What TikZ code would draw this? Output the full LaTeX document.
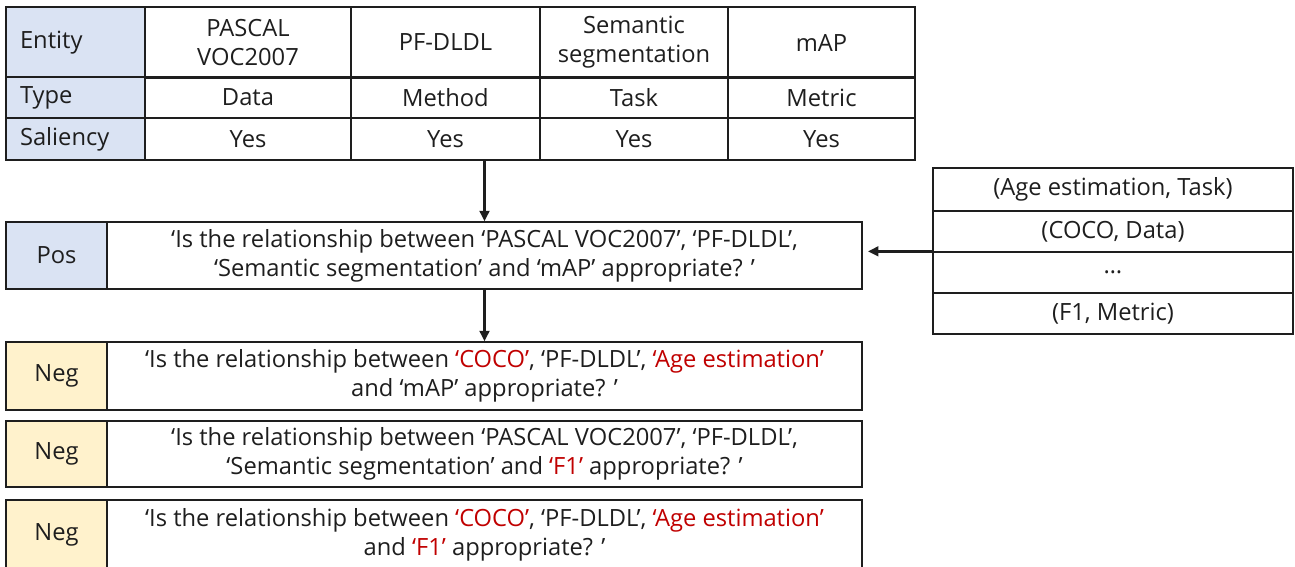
\documentclass[tikz,border=0pt]{standalone}
\usepackage{fontspec}
\setmainfont{Open Sans}
\usetikzlibrary{arrows.meta,positioning,calc}
\definecolor{Ink}{HTML}{1E1E1E}
\definecolor{HeadBlue}{HTML}{DAE3F3}
\definecolor{HeadGold}{HTML}{FFF2CC}
\definecolor{HiRed}{HTML}{C00000}
\newcommand{\hi}[1]{\textcolor{HiRed}{#1}}

\begin{document}
\begin{tikzpicture}[x=0.02cm,y=-0.02cm,>={Triangle[length=6pt,width=5.5pt]}]
\tikzset{
  cell/.style={draw=Ink,line width=0.75pt,inner sep=0pt,align=center,text=Ink,
    font=\fontsize{13.5}{16.5}\selectfont},
  sz/.style 2 args={minimum width=#1*0.02cm,minimum height=#2*0.02cm},
  rowhead/.style={cell,fill=HeadBlue,align=left,inner xsep=0.28cm,text width=2.22cm},
  tag/.style={cell},
  arr/.style={->,draw=Ink,line width=1.6pt}
}
\useasboundingbox (0,0) rectangle (1295,566);
% entity table
\node[rowhead,sz={139}{71}] (hEnt) at (75.5,42.5) {Entity};
\node[rowhead,sz={139}{41}] (hType) at (75.5,97.5) {Type};
\node[rowhead,sz={139}{42}] (hSal) at (75.5,139) {Saliency};
\node[cell,sz={206}{71}] (e1) at (248,42.5) {PASCAL\\VOC2007};
\node[cell,sz={189}{71}] (e2) at (445.5,42.5) {PF-DLDL};
\node[cell,sz={188}{71}] (e3) at (634,42.5) {Semantic\\segmentation};
\node[cell,sz={187}{71}] (e4) at (821.5,42.5) {mAP};
\node[cell,sz={206}{41}] (t1) at (248,97.5) {Data};
\node[cell,sz={189}{41}] (t2) at (445.5,97.5) {Method};
\node[cell,sz={188}{41}] (t3) at (634,97.5) {Task};
\node[cell,sz={187}{41}] (t4) at (821.5,97.5) {Metric};
\node[cell,sz={206}{42}] (s1) at (248,139) {Yes};
\node[cell,sz={189}{42}] (s2) at (445.5,139) {Yes};
\node[cell,sz={188}{42}] (s3) at (634,139) {Yes};
\node[cell,sz={187}{42}] (s4) at (821.5,139) {Yes};
% positive question
\node[tag,fill=HeadBlue,sz={101}{67}] (posTag) at (56.5,255.5) {Pos};
\node[cell,sz={755}{67}] (posQ) at (484.5,255.5) {‘Is the relationship between ‘PASCAL VOC2007’, ‘PF-DLDL’,\\‘Semantic segmentation’ and ‘mAP’ appropriate? ’};
% negative questions
\node[tag,fill=HeadGold,sz={101}{68}] (negTagA) at (56.5,376) {Neg};
\node[cell,sz={755}{68}] (negQA) at (484.5,376) {‘Is the relationship between \hi{‘COCO’}, ‘PF-DLDL’, \hi{‘Age estimation’}\\and ‘mAP’ appropriate? ’};
\node[tag,fill=HeadGold,sz={101}{66}] (negTagB) at (56.5,454) {Neg};
\node[cell,sz={755}{66}] (negQB) at (484.5,454) {‘Is the relationship between ‘PASCAL VOC2007’, ‘PF-DLDL’,\\‘Semantic segmentation’ and \hi{‘F1’} appropriate? ’};
\node[tag,fill=HeadGold,sz={101}{70}] (negTagC) at (56.5,535) {Neg};
\node[cell,sz={755}{70}] (negQC) at (484.5,535) {‘Is the relationship between \hi{‘COCO’}, ‘PF-DLDL’, \hi{‘Age estimation’}\\and \hi{‘F1’} appropriate? ’};
% candidate pool
\node[cell,sz={360}{43}] (c1) at (1113,189.5) {(Age estimation, Task)};
\node[cell,sz={360}{41}] (c2) at (1113,231.5) {(COCO, Data)};
\node[cell,sz={360}{41}] (c3) at (1113,272.5) {…};
\node[cell,sz={360}{41}] (c4) at (1113,313.5) {(F1, Metric)};
% arrows
\draw[arr] (posQ.north |- s2.south) -- (posQ.north);
\draw[arr] (posQ.south) -- (negQA.north);
\draw[arr] (c3.north west) -- ([xshift=3pt]posQ.east |- c3.north west);
\end{tikzpicture}
\end{document}
